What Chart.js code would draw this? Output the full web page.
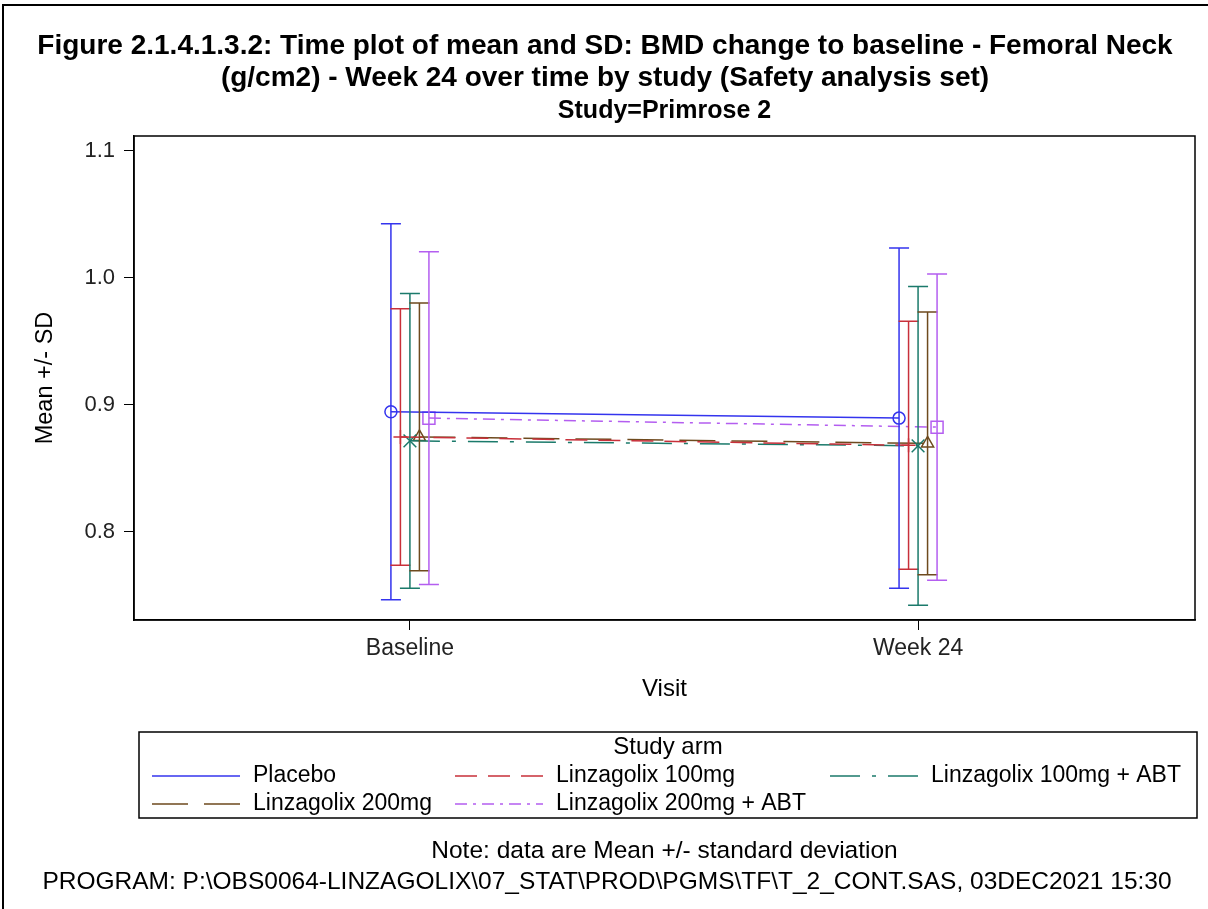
<!DOCTYPE html>
<html>
<head>
<meta charset="utf-8">
<script src="https://cdn.jsdelivr.net/npm/chart.js@4.4.0/dist/chart.umd.min.js"></script>
<style>
  html, body { margin: 0; padding: 0; background: #fff; }
  #wrap { width: 1208px; height: 909px; }
</style>
</head>
<body>
<div id="wrap"><canvas id="chart" width="1208" height="909"></canvas></div>
<script>
// visits on the x axis
const visits = ['Baseline', 'Week 24'];
// study arms (legend order)
const arms = ['Placebo', 'Linzagolix 100mg', 'Linzagolix 100mg + ABT', 'Linzagolix 200mg', 'Linzagolix 200mg + ABT'];
// mean BMD (g/cm2) per arm, one array per visit
const meanBaseline = [0.8946, 0.8748, 0.8717, 0.8748, 0.8896];
const meanWeek24   = [0.8896, 0.8682, 0.8678, 0.8697, 0.8825];
// standard deviation per arm
const sdBaseline = [0.1480, 0.1010, 0.1160, 0.1055, 0.1310];
const sdWeek24   = [0.1340, 0.0976, 0.1255, 0.1035, 0.1206];
// y tick labels
const yTicks = [0.8, 0.9, 1.0, 1.1];

const colors = ['#3434ee', '#c8303a', '#1b7a6b', '#6e4a1e', '#b45ef0'];
const dashes = [[], [22, 11], [30, 12, 4, 12], [36, 16], [12, 6, 3, 6]];
const markers = ['circle', 'cross', 'crossRot', 'triangle', 'rect'];
const markerSize = [6, 7, 9, 7, 8.5];

const FONT = '"Liberation Sans", Arial, sans-serif';

const datasets = arms.map((arm, i) => {
  const shift = (i - 2) * 0.0187; // cluster the arms around each visit
  return {
    label: arm,
    data: [
      { x: 1 + shift, y: meanBaseline[i], sd: sdBaseline[i] },
      { x: 2 + shift, y: meanWeek24[i], sd: sdWeek24[i] },
    ],
    borderColor: colors[i],
    backgroundColor: 'rgba(0,0,0,0)',
    borderWidth: 1.5,
    borderDash: dashes[i],
    pointStyle: markers[i],
    pointRadius: markerSize[i],
    pointBorderWidth: 1.5,
    pointBorderColor: colors[i],
    pointBackgroundColor: 'rgba(0,0,0,0)',
    tension: 0,
  };
});

// vertical mean +/- SD bars with caps
const errorBars = {
  id: 'errorBars',
  afterDatasetsDraw(chart) {
    const { ctx, scales: { x, y } } = chart;
    ctx.save();
    ctx.lineWidth = 1.5;
    ctx.setLineDash([]);
    chart.data.datasets.forEach(ds => {
      ctx.strokeStyle = ds.borderColor;
      ds.data.forEach(p => {
        const px = x.getPixelForValue(p.x);
        const top = y.getPixelForValue(p.y + p.sd);
        const bot = y.getPixelForValue(p.y - p.sd);
        ctx.beginPath();
        ctx.moveTo(px, top); ctx.lineTo(px, bot);
        ctx.moveTo(px - 10, top); ctx.lineTo(px + 10, top);
        ctx.moveTo(px - 10, bot); ctx.lineTo(px + 10, bot);
        ctx.stroke();
      });
    });
    ctx.restore();
  }
};

// titles, plot frame, legend and footnotes
const decorations = {
  id: 'decorations',
  beforeDraw(chart) {
    const ctx = chart.ctx;
    ctx.save();
    ctx.fillStyle = '#fff';
    ctx.fillRect(0, 0, chart.width, chart.height);
    ctx.restore();
  },
  afterDraw(chart) {
    const { ctx, chartArea: a } = chart;
    const midPlot = (a.left + a.right) / 2;
    ctx.save();
    // outer page frame (top/left)
    ctx.strokeStyle = '#000';
    ctx.lineWidth = 2;
    ctx.beginPath();
    ctx.moveTo(3, chart.height); ctx.lineTo(3, 5); ctx.lineTo(chart.width, 5);
    ctx.stroke();
    // plot box
    ctx.lineWidth = 1.5;
    ctx.strokeRect(a.left, a.top, a.right - a.left, a.bottom - a.top);

    ctx.fillStyle = '#000';
    ctx.textAlign = 'center';
    ctx.textBaseline = 'middle';
    ctx.font = 'bold 28px ' + FONT;
    ctx.fillText('Figure 2.1.4.1.3.2: Time plot of mean and SD: BMD change to baseline - Femoral Neck', 605, 46);
    ctx.fillText('(g/cm2) - Week 24 over time by study (Safety analysis set)', 605, 78);
    ctx.font = 'bold 25px ' + FONT;
    ctx.fillText('Study=Primrose 2', midPlot, 111);

    // legend
    const lx = 139, ly = 732, lw = 1058, lh = 86;
    ctx.lineWidth = 1.5;
    ctx.strokeRect(lx, ly, lw, lh);
    ctx.font = '24px ' + FONT;
    ctx.fillText('Study arm', lx + lw / 2, 747);
    ctx.font = '23px ' + FONT;
    const cols = [152, 455, 830];
    const rows = [776, 804];
    chart.data.datasets.forEach((ds, i) => {
      const cx = cols[i % 3], cy = rows[Math.floor(i / 3)];
      ctx.strokeStyle = ds.borderColor;
      ctx.lineWidth = 1.5;
      ctx.setLineDash(ds.borderDash);
      ctx.beginPath();
      ctx.moveTo(cx, cy); ctx.lineTo(cx + 88, cy);
      ctx.stroke();
      ctx.setLineDash([]);
      ctx.textAlign = 'left';
      ctx.fillText(ds.label, cx + 101, cy);
    });

    // footnotes
    ctx.textAlign = 'center';
    ctx.font = '24.5px ' + FONT;
    ctx.fillText('Note: data are Mean +/- standard deviation', midPlot, 851);
    ctx.fillText('PROGRAM: P:\\OBS0064-LINZAGOLIX\\07_STAT\\PROD\\PGMS\\TF\\T_2_CONT.SAS, 03DEC2021 15:30', 607, 882);
    ctx.restore();
  }
};

new Chart(document.getElementById('chart'), {
  type: 'line',
  data: { datasets },
  plugins: [decorations, errorBars],
  options: {
    responsive: false,
    animation: false,
    devicePixelRatio: 1,
    layout: { padding: { top: 136, left: 0, right: 13, bottom: 199 } },
    plugins: { legend: { display: false }, tooltip: { enabled: false } },
    scales: {
      x: {
        type: 'linear',
        min: 0.457,
        max: 2.545,
        afterFit(scale) { scale.height = 90; },
        afterBuildTicks(scale) { scale.ticks = visits.map((v, i) => ({ value: i + 1 })); },
        ticks: {
          callback: v => visits[v - 1],
          color: '#222',
          font: { family: FONT, size: 23 },
          padding: 5,
          maxRotation: 0,
        },
        grid: { drawOnChartArea: false, tickLength: 10, color: '#000', lineWidth: 1 },
        border: { display: true, color: '#000', width: 1.5 },
        title: {
          display: true, text: 'Visit', color: '#000',
          font: { family: FONT, size: 24 },
          padding: { top: 0, bottom: 6 },
        },
      },
      y: {
        min: 0.7306,
        max: 1.1118,
        afterFit(scale) { scale.width = 134; },
        afterBuildTicks(scale) { scale.ticks = yTicks.map(v => ({ value: v })); },
        ticks: {
          callback: v => v.toFixed(1),
          color: '#222',
          font: { family: FONT, size: 22 },
          padding: 9,
        },
        grid: { drawOnChartArea: false, tickLength: 10, color: '#000', lineWidth: 1 },
        border: { display: true, color: '#000', width: 1.5 },
        title: {
          display: true, text: 'Mean +/- SD', color: '#000',
          font: { family: FONT, size: 23.5 },
          padding: { top: 31, bottom: 0 },
        },
      },
    },
  },
});
</script>
</body>
</html>
